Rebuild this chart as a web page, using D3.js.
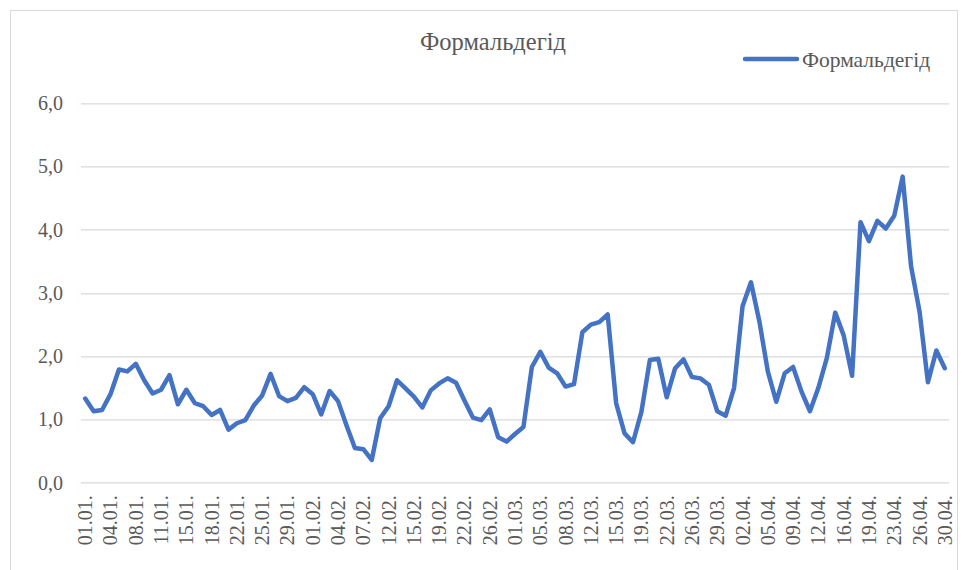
<!DOCTYPE html>
<html>
<head>
<meta charset="utf-8">
<script src="https://cdn.jsdelivr.net/npm/d3@7"></script>
<style>
  body { margin: 0; background: #fff; }
  svg text { font-family: "Liberation Serif", "Times New Roman", "DejaVu Serif", serif; fill: #595959; }
</style>
</head>
<body>
<svg id="chart" width="967" height="570"></svg>
<script>
// Dates (category axis), one entry per measurement
const dates = [
  '01.01.', '02.01.', '03.01.', '04.01.', '05.01.', '06.01.', '08.01.', '09.01.', '10.01.',
  '11.01.', '12.01.', '13.01.', '15.01.', '16.01.', '17.01.', '18.01.', '19.01.', '20.01.',
  '22.01.', '23.01.', '24.01.', '25.01.', '26.01.', '27.01.', '29.01.', '30.01.', '31.01.',
  '01.02.', '02.02.', '03.02.', '04.02.', '05.02.', '06.02.', '07.02.', '08.02.', '10.02.',
  '12.02.', '13.02.', '14.02.', '15.02.', '16.02.', '17.02.', '19.02.', '20.02.', '21.02.',
  '22.02.', '23.02.', '24.02.', '26.02.', '27.02.', '28.02.', '01.03.', '02.03.', '03.03.',
  '05.03.', '06.03.', '07.03.', '08.03.', '09.03.', '10.03.', '12.03.', '13.03.', '14.03.',
  '15.03.', '16.03.', '17.03.', '19.03.', '20.03.', '21.03.', '22.03.', '23.03.', '24.03.',
  '26.03.', '27.03.', '28.03.', '29.03.', '30.03.', '31.03.', '02.04.', '03.04.', '04.04.',
  '05.04.', '06.04.', '07.04.', '09.04.', '10.04.', '11.04.', '12.04.', '13.04.', '14.04.',
  '16.04.', '17.04.', '18.04.', '19.04.', '20.04.', '21.04.', '23.04.', '24.04.', '25.04.',
  '26.04.', '27.04.', '28.04.', '30.04.'
];

// Formaldehyde concentration per date
const formaldehyde = [
  1.33, 1.13, 1.15, 1.40, 1.79, 1.76, 1.88, 1.62, 1.41,
  1.47, 1.70, 1.24, 1.47, 1.26, 1.21, 1.07, 1.15, 0.84,
  0.94, 0.99, 1.22, 1.38, 1.72, 1.37, 1.29, 1.34, 1.51,
  1.40, 1.08, 1.45, 1.29, 0.91, 0.55, 0.53, 0.36, 1.02,
  1.21, 1.62, 1.49, 1.36, 1.19, 1.46, 1.57, 1.65, 1.58,
  1.30, 1.03, 0.99, 1.16, 0.72, 0.65, 0.77, 0.88, 1.83,
  2.07, 1.82, 1.73, 1.52, 1.56, 2.38, 2.50, 2.54, 2.66,
  1.26, 0.78, 0.64, 1.12, 1.94, 1.96, 1.35, 1.81, 1.95,
  1.67, 1.65, 1.55, 1.13, 1.06, 1.50, 2.79, 3.17, 2.55,
  1.76, 1.28, 1.73, 1.83, 1.44, 1.13, 1.50, 1.97, 2.69,
  2.33, 1.69, 4.12, 3.82, 4.14, 4.02, 4.22, 4.84, 3.42,
  2.71, 1.59, 2.09, 1.81
];

const yTicks = [0, 1, 2, 3, 4, 5, 6];
const seriesName = 'Формальдегід';

const svg = d3.select('#chart');
const margin = { top: 103.3, right: 18, bottom: 87.3, left: 81 };
const width = 967 - margin.left - margin.right;
const height = 570 - margin.top - margin.bottom;
const blue = '#4472c4';
const serif = '"Liberation Serif", "Times New Roman", "DejaVu Serif", serif';

// Chart area border
svg.append('rect')
  .attr('x', 10.5).attr('y', 10.5)
  .attr('width', 947).attr('height', 580)
  .attr('fill', 'none')
  .attr('stroke', '#d9d9d9');

const g = svg.append('g')
  .attr('transform', `translate(${margin.left},${margin.top})`);

const x = d3.scaleBand()
  .domain(dates)
  .range([0, width]);

const y = d3.scaleLinear()
  .domain([0, 6])
  .range([height, 0]);

// Grid lines
g.append('g')
  .selectAll('line')
  .data(yTicks)
  .enter()
  .append('line')
  .attr('x1', 0)
  .attr('x2', width)
  .attr('y1', d => Math.round(y(d)) + 0.5)
  .attr('y2', d => Math.round(y(d)) + 0.5)
  .attr('stroke', '#d9d9d9')
  .attr('stroke-width', 1.3);

// Y axis labels
const yAxis = g.append('g')
  .attr('font-family', null)
  .call(d3.axisLeft(y)
    .tickValues(yTicks)
    .tickSize(0)
    .tickPadding(18)
    .tickFormat(d => d3.format('.1f')(d).replace('.', ',')));
yAxis.select('.domain').remove();
yAxis.selectAll('text')
  .style('font-size', '20px')
  .style('font-family', serif)
  .attr('fill', '#595959');

// X axis labels, every third date
const xAxis = g.append('g')
  .attr('transform', `translate(0,${height})`)
  .call(d3.axisBottom(x)
    .tickValues(dates.filter((d, i) => i % 3 === 0))
    .tickSize(0));
xAxis.select('.domain').remove();
xAxis.selectAll('text')
  .style('font-size', '20px')
  .style('font-family', serif)
  .attr('fill', '#595959')
  .attr('text-anchor', 'end')
  .attr('dy', '0.35em')
  .attr('transform', 'translate(0,12.5) rotate(-90)')
  .attr('x', 0)
  .attr('y', 0);

// Line
const line = d3.line()
  .x((d, i) => x(dates[i]) + x.bandwidth() / 2)
  .y(d => y(d));

g.append('path')
  .datum(formaldehyde)
  .attr('fill', 'none')
  .attr('stroke', blue)
  .attr('stroke-width', 4.5)
  .attr('stroke-linejoin', 'round')
  .attr('stroke-linecap', 'round')
  .attr('d', line);

// Title
svg.append('text')
  .attr('x', 493)
  .attr('y', 49.5)
  .attr('text-anchor', 'middle')
  .style('font-family', serif)
  .style('font-size', '24.5px')
  .text(seriesName);

// Legend
svg.append('line')
  .attr('x1', 745).attr('x2', 797)
  .attr('y1', 59).attr('y2', 59)
  .attr('stroke', blue)
  .attr('stroke-width', 4.5)
  .attr('stroke-linecap', 'round');

svg.append('text')
  .attr('x', 802)
  .attr('y', 67)
  .style('font-family', serif)
  .style('font-size', '21.5px')
  .text(seriesName);
</script>
</body>
</html>
